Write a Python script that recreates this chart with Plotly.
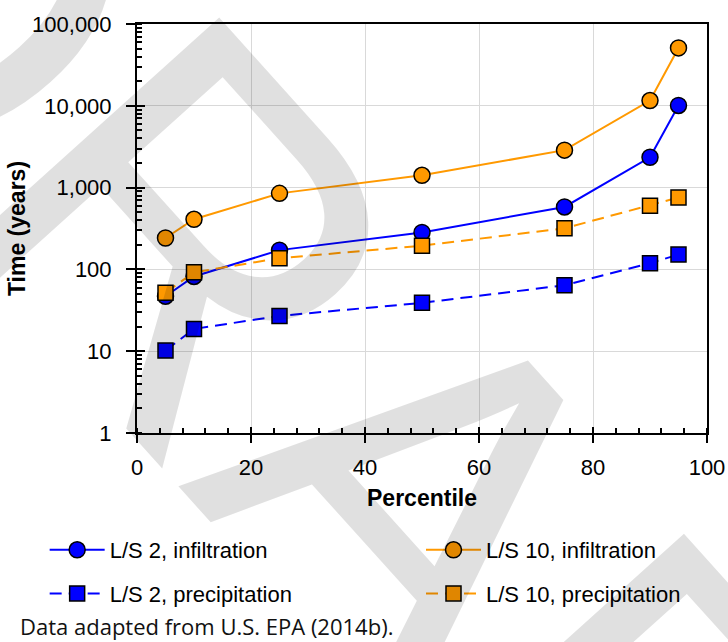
import plotly.graph_objects as go

percentile = [5, 10, 25, 50, 75, 90, 95]
ls2_infiltration = [47, 82, 172, 283, 580, 2350, 10100]
ls2_precipitation = [10.2, 18.7, 27, 39, 64, 119, 152]
ls10_infiltration = [242, 410, 850, 1415, 2870, 11600, 51000]
ls10_precipitation = [52, 92, 137, 195, 318, 600, 757]

names = ["L/S 2, infiltration", "L/S 2, precipitation",
         "L/S 10, infiltration", "L/S 10, precipitation"]

BLUE = "#0000FF"
ORANGE = "#FF9900"
FONT = "Liberation Sans, Arial, sans-serif"

fig = go.Figure()

series = [
    (names[0], ls2_infiltration, BLUE, "circle", "solid", "legend", 16),
    (names[1], ls2_precipitation, BLUE, "square", "12px,7px", "legend", 15),
    (names[2], ls10_infiltration, ORANGE, "circle", "solid", "legend2", 16),
    (names[3], ls10_precipitation, ORANGE, "square", "12px,7px", "legend2", 15),
]
for name, vals, col, sym, dash, leg, msize in series:
    fig.add_trace(go.Scatter(
        x=percentile, y=vals, name=name, mode="lines+markers",
        line=dict(color=col, width=2, dash=dash),
        marker=dict(symbol=sym, size=msize, color=col,
                    line=dict(color="black", width=1.5)),
        legend=leg, legendgroup=name,
    ))

# empty trace for overlay axes carrying the inward part of the major ticks
fig.add_trace(go.Scatter(x=[], y=[], xaxis="x2", yaxis="y2", showlegend=False))

fig.update_layout(
    width=728, height=642,
    margin=dict(l=137, r=21, t=24, b=209),
    paper_bgcolor="white", plot_bgcolor="white",
    font=dict(family=FONT, size=22, color="black"),
    xaxis=dict(
        range=[0, 100], dtick=20, tick0=0, automargin=False,
        showline=True, linecolor="black", linewidth=2, mirror=True,
        ticks="outside", ticklen=8, tickwidth=2, tickcolor="black",
        showgrid=True, gridcolor="#d9d9d9", gridwidth=1, zeroline=False,
        minor=dict(dtick=4, ticks="inside", ticklen=5, tickwidth=1.5,
                   tickcolor="black", showgrid=False),
        tickfont=dict(size=22), ticklabelstandoff=6,
        title=dict(text="<b>Percentile</b>", font=dict(size=23), standoff=10),
    ),
    yaxis=dict(
        type="log", range=[0, 5], dtick=1, tickformat=",d", automargin=False,
        showline=True, linecolor="black", linewidth=2, mirror=True,
        ticks="outside", ticklen=9, tickwidth=2, tickcolor="black",
        showgrid=True, gridcolor="#d9d9d9", gridwidth=1, zeroline=False,
        minor=dict(dtick="D1", ticks="inside", ticklen=5, tickwidth=1.5,
                   tickcolor="black", showgrid=False),
        tickfont=dict(size=22), ticklabelstandoff=10,
        title=dict(text="<b>Time (years)</b>", font=dict(size=23), standoff=0),
    ),
    xaxis2=dict(
        overlaying="x", anchor="y", range=[0, 100], dtick=20, tick0=0,
        ticks="inside", ticklen=6, tickwidth=2, tickcolor="black",
        showticklabels=False, showgrid=False, showline=False, zeroline=False,
    ),
    yaxis2=dict(
        overlaying="y", anchor="x", type="log", range=[0, 5], dtick=1,
        side="left",
        ticks="inside", ticklen=8, tickwidth=2, tickcolor="black",
        showticklabels=False, showgrid=False, showline=False, zeroline=False,
    ),
    legend=dict(
        xref="paper", yref="container",
        x=(44.5 - 137) / 571, y=1 - 529 / 642, xanchor="left", yanchor="top",
        orientation="v", tracegroupgap=12, itemwidth=55,
        bgcolor="rgba(0,0,0,0)", font=dict(size=22),
    ),
    legend2=dict(
        xref="paper", yref="container",
        x=(421.5 - 137) / 571, y=1 - 529 / 642, xanchor="left", yanchor="top",
        orientation="v", tracegroupgap=12, itemwidth=55,
        bgcolor="rgba(0,0,0,0)", font=dict(size=22),
    ),
    showlegend=True,
)

fig.add_annotation(
    text="Data adapted from U.S. EPA (2014b).", xref="paper", yref="paper",
    x=(18 - 137) / 571, y=(433 - 626) / 409, xanchor="left", yanchor="middle",
    showarrow=False, font=dict(family="Open Sans, sans-serif", size=22, color="#111111"),
)

# DRAFT watermark overlay
fig.add_annotation(
    text="DRAFT", xref="paper", yref="paper",
    x=(382 - 137) / 571, y=(433 - 452) / 409, xanchor="center", yanchor="middle",
    showarrow=False, textangle=48,
    font=dict(family=FONT, size=500, color="rgba(0,0,0,0.12)"),
)

fig.write_html("out.html")
